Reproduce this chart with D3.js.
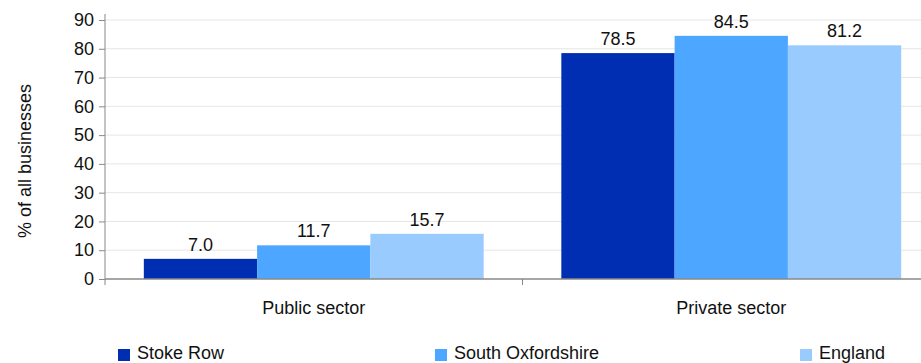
<!DOCTYPE html>
<html><head><meta charset="utf-8">
<script src="https://cdn.jsdelivr.net/npm/d3@7"></script>
<style>body{margin:0;background:#fff}svg{display:block}text{font-family:"Liberation Sans",Arial,sans-serif;fill:#111}</style>
</head><body>
<svg id="c" width="921" height="363"></svg>
<script>
const categories = ["Public sector", "Private sector"];
const seriesNames = ["Stoke Row", "South Oxfordshire", "England"];
const stokeRow = [7.0, 78.5];
const southOxfordshire = [11.7, 84.5];
const england = [15.7, 81.2];
const yTicks = [0, 10, 20, 30, 40, 50, 60, 70, 80, 90];
const colors = ["#002eb2", "#4da6ff", "#99cbff"];
const seriesValues = [stokeRow, southOxfordshire, england];
const FS = 18;

const svg = d3.select("#c");
const x0 = 105, x1 = 940, yTop = 20, yBot = 279;
const y = d3.scaleLinear().domain([0, 90]).range([yBot, yTop]);
const xb = d3.scaleBand().domain(categories).range([x0, x1]).paddingInner(0.186).paddingOuter(0.093);
const xs = d3.scaleBand().domain(seriesNames).range([0, xb.bandwidth()]);

// gridlines
svg.append("g").selectAll("line").data(yTicks.filter(d => d > 0)).join("line")
  .attr("x1", x0).attr("x2", 921).attr("y1", d => y(d)).attr("y2", d => y(d))
  .attr("stroke", "#e6e6e6").attr("stroke-width", 1);

// bars
const groups = svg.append("g").selectAll("g").data(categories).join("g")
  .attr("transform", c => `translate(${xb(c)},0)`);
groups.each(function(c, ci) {
  const g = d3.select(this);
  seriesNames.forEach((s, si) => {
    const v = seriesValues[si][ci];
    g.append("rect").attr("x", xs(s)).attr("width", xs.bandwidth())
      .attr("y", y(v)).attr("height", y(0) - y(v)).attr("fill", colors[si]);
    g.append("text").attr("x", xs(s) + xs.bandwidth() / 2).attr("y", y(v) - 8)
      .attr("text-anchor", "middle").attr("font-size", FS).text(v.toFixed(1));
  });
});

// y axis
const ya = svg.append("g").attr("transform", `translate(${x0},0)`)
  .call(d3.axisLeft(y).tickValues(yTicks).tickSize(6).tickPadding(5));
ya.select(".domain").attr("stroke", "#888").attr("d", `M0,${yTop - 6}V${yBot}`);
ya.selectAll(".tick line").attr("stroke", "#888");
ya.selectAll(".tick text").attr("font-size", FS).attr("fill", "#111")
  .style("font-family", '"Liberation Sans",Arial,sans-serif');

// x axis
svg.append("line").attr("x1", x0).attr("x2", 921).attr("y1", yBot).attr("y2", yBot)
  .attr("stroke", "#888").attr("stroke-width", 1.5);
const bounds = [x0, x0 + xb.step(), x0 + 2 * xb.step()];
svg.append("g").selectAll("line").data(bounds).join("line")
  .attr("x1", d => d).attr("x2", d => d).attr("y1", yBot).attr("y2", yBot + 6)
  .attr("stroke", "#888");
svg.append("g").selectAll("text").data(categories).join("text")
  .attr("x", c => xb(c) + xb.bandwidth() / 2).attr("y", 314)
  .attr("text-anchor", "middle").attr("font-size", FS).text(c => c);

// axis title
svg.append("text").attr("transform", "translate(31,161) rotate(-90)")
  .attr("text-anchor", "middle").attr("font-size", FS).text("% of all businesses");

// legend
const legX = [118, 435, 800];
const leg = svg.append("g").selectAll("g").data(seriesNames).join("g")
  .attr("transform", (d, i) => `translate(${legX[i]},0)`);
leg.append("rect").attr("x", 0).attr("y", 349).attr("width", 12).attr("height", 12)
  .attr("fill", (d, i) => colors[i]);
leg.append("text").attr("x", 19).attr("y", 359).attr("font-size", FS).text(d => d);
</script>
</body></html>
